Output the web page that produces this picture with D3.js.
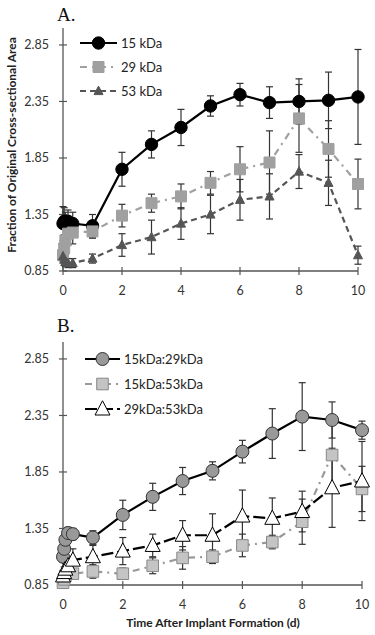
<!DOCTYPE html>
<html>
<head>
<meta charset="utf-8">
<script src="https://cdn.jsdelivr.net/npm/d3@7"></script>
<style>
	body { margin: 0; background: #fff; }
	svg { display: block; }
	.tick-label { font-family: Lato, "Open Sans", sans-serif; font-size: 12.5px; fill: #333; }
	.axis-title { font-family: Lato, "Open Sans", sans-serif; font-size: 12px; font-weight: bold; fill: #222; }
	.panel-title { font-family: "Liberation Serif", "DejaVu Serif", serif; font-size: 19px; fill: #111; }
	.legend-label { font-family: Lato, "Open Sans", sans-serif; font-size: 13px; fill: #222; }
</style>
</head>
<body>
<svg id="plot"></svg>
<script>
const WIDTH = 375;
const HEIGHT = 635;

const plot = d3.select("#plot").attr("width", WIDTH).attr("height", HEIGHT);

// time points (days); the first five are the early hours after formation
const days = [0, 0.04, 0.08, 0.17, 0.33, 1, 2, 3, 4, 5, 6, 7, 8, 9, 10];
const yTickValues = [0.85, 1.35, 1.85, 2.35, 2.85];
const xTickValues = [0, 2, 4, 6, 8, 10];

// panel A
const kda15 = [1.27, 1.29, 1.27, 1.29, 1.27, 1.25, 1.75, 1.97, 2.12, 2.31, 2.41, 2.34, 2.35, 2.36, 2.39];
const kda15Err = [0.15, 0.12, 0.1, 0.1, 0.1, 0.1, 0.15, 0.12, 0.16, 0.09, 0.1, 0.14, 0.2, 0.25, 0.42];
const kda29 = [0.99, 1.05, 1.12, 1.18, 1.19, 1.2, 1.34, 1.45, 1.51, 1.63, 1.75, 1.81, 2.2, 1.93, 1.62];
const kda29Err = [0.05, 0.08, 0.1, 0.1, 0.1, 0.06, 0.1, 0.08, 0.11, 0.1, 0.2, 0.28, 0.3, 0.25, 0.22];
const kda53 = [0.98, 0.95, 0.93, 0.92, 0.92, 0.96, 1.08, 1.15, 1.27, 1.35, 1.48, 1.51, 1.73, 1.63, 0.99];
const kda53Err = [0.04, 0.05, 0.04, 0.04, 0.04, 0.04, 0.1, 0.15, 0.14, 0.17, 0.18, 0.2, 0.15, 0.2, 0.08];

// panel B
const ratio15to29 = [1.1, 1.17, 1.25, 1.31, 1.3, 1.27, 1.47, 1.63, 1.77, 1.86, 2.03, 2.19, 2.34, 2.31, 2.22];
const ratio15to29Err = [0.05, 0.05, 0.05, 0.05, 0.05, 0.06, 0.13, 0.12, 0.12, 0.08, 0.1, 0.22, 0.3, 0.16, 0.08];
const ratio15to53 = [0.87, 0.9, 0.93, 0.95, 0.95, 0.97, 0.95, 1.02, 1.09, 1.1, 1.2, 1.23, 1.41, 2.0, 1.7];
const ratio15to53Err = [0.03, 0.04, 0.04, 0.04, 0.04, 0.06, 0.05, 0.07, 0.1, 0.06, 0.1, 0.06, 0.2, 0.3, 0.2];
const ratio29to53 = [0.93, 0.96, 0.99, 1.02, 1.07, 1.1, 1.15, 1.2, 1.29, 1.29, 1.46, 1.44, 1.5, 1.71, 1.77];
const ratio29to53Err = [0.04, 0.05, 0.05, 0.05, 0.1, 0.1, 0.12, 0.1, 0.13, 0.19, 0.23, 0.18, 0.18, 0.35, 0.35];

const panels = [
	{
		title: "A.",
		top: 28,
		bottom: 271,
		left: 63,
		right: 358,
		titleY: 21,
		legendY: [43, 67, 91],
		legendX: [80, 117],
		series: [
			{ name: "15 kDa", values: kda15, errors: kda15Err, stroke: "#000", dash: null, marker: "circle", fill: "#000", markerStroke: "#000", size: 6.2 },
			{ name: "29 kDa", values: kda29, errors: kda29Err, stroke: "#a0a0a0", dash: "7,5,2,5", marker: "square", fill: "#a0a0a0", markerStroke: "#a0a0a0", size: 5.5 },
			{ name: "53 kDa", values: kda53, errors: kda53Err, stroke: "#555", dash: "6,4", marker: "triangle", fill: "#555", markerStroke: "#555", size: 4.5 },
		],
	},
	{
		title: "B.",
		top: 342,
		bottom: 585,
		left: 63,
		right: 362,
		titleY: 332,
		legendY: [359, 384, 409],
		legendX: [85, 120],
		series: [
			{ name: "15kDa:29kDa", values: ratio15to29, errors: ratio15to29Err, stroke: "#000", dash: null, marker: "circle", fill: "#999", markerStroke: "#333", size: 6.5 },
			{ name: "15kDa:53kDa", values: ratio15to53, errors: ratio15to53Err, stroke: "#999", dash: "7,5,2,5", marker: "square", fill: "#c4c4c4", markerStroke: "#888", size: 5.8 },
			{ name: "29kDa:53kDa", values: ratio29to53, errors: ratio29to53Err, stroke: "#000", dash: "12,4", marker: "triangle", fill: "#fff", markerStroke: "#000", size: 7.5 },
		],
	},
];

function markerPath(type, size) {
	if (type === "circle") {
		return d3.symbol(d3.symbolCircle, Math.PI * size * size)();
	}
	if (type === "square") {
		return `M${-size},${-size}H${size}V${size}H${-size}Z`;
	}
	return `M0,${-size * 1.1}L${size},${size * 0.8}H${-size}Z`;
}

function drawPanel(panel) {
	const g = plot.append("g");
	const xScale = d3.scaleLinear([0, 10], [panel.left, panel.right]);
	const yScale = d3.scaleLinear([0.85, 3.0], [panel.bottom, panel.top]);

	// axes
	g.append("line")
		.attr("x1", panel.left).attr("x2", panel.left)
		.attr("y1", panel.top).attr("y2", panel.bottom)
		.attr("stroke", "#555").attr("stroke-width", 1.3);
	g.append("line")
		.attr("x1", panel.left).attr("x2", panel.right)
		.attr("y1", panel.bottom).attr("y2", panel.bottom)
		.attr("stroke", "#555").attr("stroke-width", 1.3);

	g.selectAll(".y-tick").data(yTickValues).join("line")
		.attr("x1", panel.left - 4).attr("x2", panel.left + 4)
		.attr("y1", d => yScale(d)).attr("y2", d => yScale(d))
		.attr("stroke", "#555").attr("stroke-width", 1.2);
	g.selectAll(".y-label").data(yTickValues).join("text")
		.attr("class", "tick-label")
		.attr("x", panel.left - 14)
		.attr("y", d => yScale(d))
		.attr("dy", "0.35em")
		.attr("text-anchor", "end")
		.text(d => d.toFixed(2));

	g.selectAll(".x-tick").data(xTickValues).join("line")
		.attr("x1", d => xScale(d)).attr("x2", d => xScale(d))
		.attr("y1", panel.bottom - 4).attr("y2", panel.bottom + 4)
		.attr("stroke", "#555").attr("stroke-width", 1.2);
	g.selectAll(".x-label").data(xTickValues).join("text")
		.attr("class", "tick-label")
		.attr("x", d => xScale(d))
		.attr("y", panel.bottom + 24)
		.attr("text-anchor", "middle")
		.text(d => d);

	g.append("text")
		.attr("class", "panel-title")
		.attr("x", panel.left - 6)
		.attr("y", panel.titleY)
		.text(panel.title);

	// error bars first, then lines, then markers
	panel.series.forEach(s => {
		const bars = g.append("g");
		days.forEach((d, i) => {
			const x = xScale(d);
			const y1 = yScale(s.values[i] - s.errors[i]);
			const y2 = yScale(s.values[i] + s.errors[i]);
			bars.append("line").attr("x1", x).attr("x2", x).attr("y1", y1).attr("y2", y2)
				.attr("stroke", "#333").attr("stroke-width", 1.2);
			[y1, y2].forEach(y => {
				bars.append("line").attr("x1", x - 3.5).attr("x2", x + 3.5).attr("y1", y).attr("y2", y)
					.attr("stroke", "#333").attr("stroke-width", 1.2);
			});
		});
	});

	const line = d3.line().x(d => xScale(d[0])).y(d => yScale(d[1]));
	panel.series.forEach(s => {
		g.append("path")
			.attr("d", line(days.map((d, i) => [d, s.values[i]])))
			.attr("fill", "none")
			.attr("stroke", s.stroke)
			.attr("stroke-width", 2.2)
			.attr("stroke-dasharray", s.dash);
	});

	panel.series.forEach(s => {
		g.selectAll(null).data(days.map((d, i) => [d, s.values[i]])).join("path")
			.attr("d", markerPath(s.marker, s.size))
			.attr("transform", d => `translate(${xScale(d[0])},${yScale(d[1])})`)
			.attr("fill", s.fill)
			.attr("stroke", s.markerStroke)
			.attr("stroke-width", 1);
	});

	// legend
	panel.series.forEach((s, i) => {
		const y = panel.legendY[i];
		const [lx1, lx2] = panel.legendX;
		g.append("line")
			.attr("x1", lx1).attr("x2", lx2).attr("y1", y).attr("y2", y)
			.attr("stroke", s.stroke).attr("stroke-width", 2.2)
			.attr("stroke-dasharray", s.dash);
		g.append("path")
			.attr("d", markerPath(s.marker, s.size))
			.attr("transform", `translate(${(lx1 + lx2) / 2},${y})`)
			.attr("fill", s.fill).attr("stroke", s.markerStroke).attr("stroke-width", 1);
		g.append("text")
			.attr("class", "legend-label")
			.attr("x", lx2 + 4)
			.attr("y", y)
			.attr("dy", "0.35em")
			.text(s.name);
	});
}

panels.forEach(drawPanel);

plot.append("text")
	.attr("class", "axis-title")
	.attr("transform", "translate(16,145) rotate(-90)")
	.attr("text-anchor", "middle")
	.text("Fraction of Original Cross-sectional Area");

plot.append("text")
	.attr("class", "axis-title")
	.attr("x", 213)
	.attr("y", 627)
	.attr("text-anchor", "middle")
	.text("Time After Implant Formation (d)");
</script>
</body>
</html>
